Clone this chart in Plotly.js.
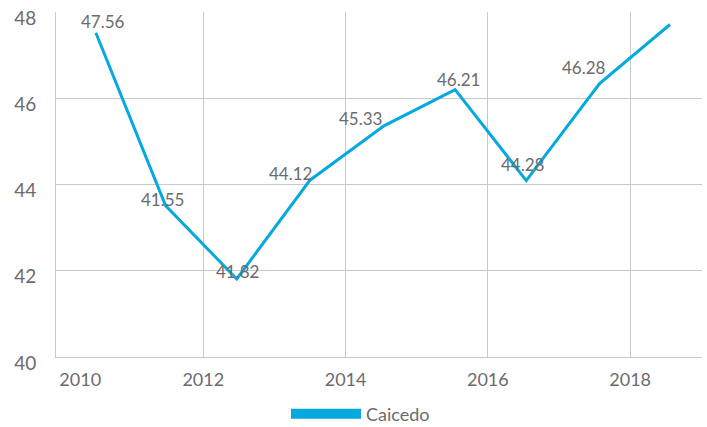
<!DOCTYPE html>
<html>
<head>
<meta charset="utf-8">
<script src="https://cdn.plot.ly/plotly-3.0.1.min.js"></script>
<style>html,body{margin:0;padding:0;background:#fff;}#chart{width:707px;height:427px;}</style>
</head>
<body>
<div id="chart"></div>
<script>
// Data
const seriesName = 'Caicedo';
const years = [2010.49, 2011.47, 2012.47, 2013.5, 2014.54, 2015.54, 2016.54, 2017.57, 2018.56];
const values = [47.52, 43.51, 41.81, 44.10, 45.36, 46.20, 44.09, 46.34, 47.71];
const labels = ['47.56', '41.55', '41.82', '44.12', '45.33', '46.21', '44.28', '46.28', ''];
const tickYears = [2012, 2014, 2016, 2018];
const tickLabelPos = [2010.27, 2012, 2014, 2016, 2018];
const tickLabels = ['2010', '2012', '2014', '2016', '2018'];

// label offsets (pixels), styling only
const labelDx = [7, -3, 1, -19, -23, 3, -3, -16, 0];
const labelDy = [11, 6, 7, 7, 7, 10, 16, 16, 0];

const blue = '#06a9df';
const grey = '#6b6b6f';
const gridc = '#c8c8cd';
const font = 'Lato, "Open Sans", sans-serif';
const xr = [2009.93, 2019.01];

const traces = [
  {x: years, y: values, type: 'scatter', mode: 'lines', name: seriesName,
   line: {color: blue, width: 3}, showlegend: false, hoverinfo: 'skip'},
  {x: [null], y: [null], type: 'scatter', mode: 'lines', name: seriesName,
   xaxis: 'x2', line: {color: blue, width: 12}, showlegend: true}
];

const annotations = labels.map((t, i) => ({
  x: years[i], y: values[i], text: t, showarrow: false,
  xshift: labelDx[i], yshift: labelDy[i],
  font: {family: font, size: 17, color: grey}
})).filter(a => a.text !== '');

const layout = {
  width: 707, height: 427,
  margin: {l: 56, r: 5, t: 12, b: 70},
  paper_bgcolor: '#fff', plot_bgcolor: '#fff',
  font: {family: font, color: grey},
  xaxis: {range: xr, tickvals: tickYears, showticklabels: false, showgrid: true,
          gridcolor: gridc, gridwidth: 1, showline: true, linecolor: gridc, linewidth: 1,
          zeroline: false, ticks: '', automargin: false},
  xaxis2: {range: xr, overlaying: 'x', anchor: 'y', side: 'bottom', automargin: false,
           tickvals: tickLabelPos, ticktext: tickLabels, showgrid: false, showline: false,
           zeroline: false, ticks: '', ticklabelstandoff: 10,
           tickfont: {family: font, size: 18, color: grey}},
  yaxis: {range: [40, 48], dtick: 2, showgrid: true, gridcolor: gridc, gridwidth: 1,
          showline: true, linecolor: gridc, linewidth: 1, zeroline: false, ticks: '',
          automargin: false, ticklabelstandoff: 15, ticklabelshift: 6, ticklabeloverflow: 'allow',
          tickfont: {family: font, size: 19, color: grey}},
  showlegend: true,
  legend: {orientation: 'h', xref: 'container', yref: 'container',
           x: 0.4045, xanchor: 'left', y: 0.0304, yanchor: 'middle',
           itemwidth: 70, font: {family: font, size: 18, color: grey}, bgcolor: 'rgba(0,0,0,0)'},
  annotations: annotations
};

Plotly.newPlot('chart', traces, layout, {displayModeBar: false, staticPlot: true});
</script>
</body>
</html>
